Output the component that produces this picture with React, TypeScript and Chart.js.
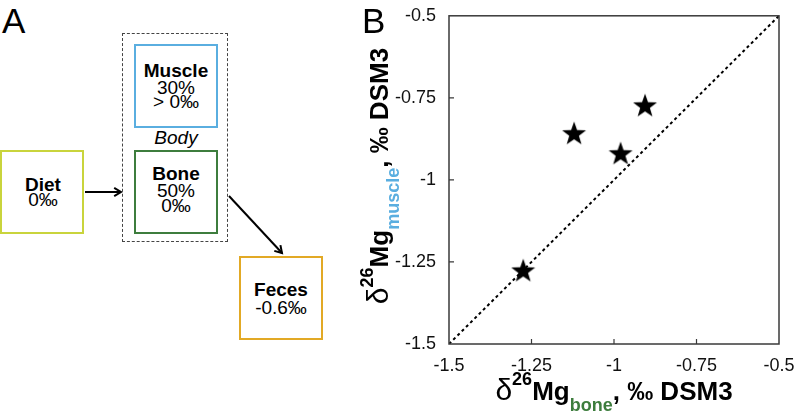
import React, { useEffect, useRef } from "react";
import { Chart, registerables } from "chart.js";

Chart.register(...registerables);

// ---- data ----
const boneValues = [-1.275, -1.121, -0.98, -0.906];
const muscleValues = [-1.276, -0.858, -0.919, -0.773];
const refLineX = [-1.5, -0.5];
const refLineY = [-1.5, -0.5];
const tickValues = [-1.5, -1.25, -1, -0.75, -0.5];
const tickLabels = ["-1.5", "-1.25", "-1", "-0.75", "-0.5"];

const FONT = "'Liberation Sans', Arial, Helvetica, sans-serif";
const BLUE = "#5aaee0";
const GREEN = "#3d7d3d";
const YELLOW = "#c9d43c";
const ORANGE = "#e2a925";

function makeStar(): HTMLCanvasElement {
  const c = document.createElement("canvas");
  const s = 28;
  c.width = s;
  c.height = s;
  const ctx = c.getContext("2d")!;
  const cx = s / 2, cy = s / 2 + 0.8;
  const R = 12.6, r = 5.1;
  ctx.beginPath();
  for (let i = 0; i < 10; i++) {
    const rad = i % 2 === 0 ? R : r;
    const a = -Math.PI / 2 + (i * Math.PI) / 5;
    const x = cx + rad * Math.cos(a);
    const y = cy + rad * Math.sin(a);
    if (i === 0) ctx.moveTo(x, y);
    else ctx.lineTo(x, y);
  }
  ctx.closePath();
  ctx.fillStyle = "#000";
  ctx.fill();
  return c;
}

const framePlugin = {
  id: "frameTicks",
  afterDatasetsDraw(chart: any) {
    const { ctx, chartArea } = chart;
    const { left, right, top, bottom } = chartArea;
    ctx.save();
    ctx.strokeStyle = "#3a3a3a";
    ctx.lineWidth = 1.5;
    ctx.strokeRect(left, top, right - left, bottom - top);
    ctx.lineWidth = 1.2;
    const xs = chart.scales.x;
    const ys = chart.scales.y;
    ctx.beginPath();
    xs.ticks.forEach((t: any, i: number) => {
      if (i === 0 || i === xs.ticks.length - 1) return;
      const px = xs.getPixelForValue(t.value);
      ctx.moveTo(px, bottom);
      ctx.lineTo(px, bottom - 5);
    });
    ys.ticks.forEach((t: any, i: number) => {
      if (i === 0 || i === ys.ticks.length - 1) return;
      const py = ys.getPixelForValue(t.value);
      ctx.moveTo(left, py);
      ctx.lineTo(left + 5, py);
    });
    ctx.stroke();
    ctx.restore();
  },
};

function ChartPanel() {
  const ref = useRef<HTMLCanvasElement | null>(null);
  useEffect(() => {
    if (!ref.current) return;
    const star = makeStar();
    const labelFor = (v: number) => {
      const i = tickValues.findIndex((t) => Math.abs(t - v) < 1e-9);
      return i >= 0 ? tickLabels[i] : "";
    };
    const tickFont = { family: FONT, size: 18 };
    const chart = new Chart(ref.current, {
      type: "scatter",
      data: {
        datasets: [
          {
            type: "line",
            data: refLineX.map((x, i) => ({ x, y: refLineY[i] })),
            borderColor: "#000",
            borderWidth: 2,
            borderDash: [3, 3],
            pointRadius: 0,
            fill: false,
          } as any,
          {
            data: boneValues.map((x, i) => ({ x, y: muscleValues[i] })),
            pointStyle: star as any,
            pointRadius: 13,
            backgroundColor: "#000",
          },
        ],
      },
      options: {
        animation: false,
        responsive: false,
        events: [],
        layout: { padding: { top: 14, right: 20, left: 0, bottom: 0 } },
        plugins: { legend: { display: false }, tooltip: { enabled: false } },
        scales: {
          x: {
            type: "linear",
            min: -1.5,
            max: -0.5,
            afterBuildTicks: (s: any) => {
              s.ticks = tickValues.map((v) => ({ value: v }));
            },
            afterFit: (s: any) => {
              s.height = 75;
            },
            grid: { display: false },
            border: { display: false },
            ticks: {
              callback: (v: any) => labelFor(Number(v)),
              font: tickFont,
              color: "#111",
              padding: 3,
              maxRotation: 0,
              autoSkip: false,
            },
          },
          y: {
            type: "linear",
            min: -1.5,
            max: -0.5,
            afterBuildTicks: (s: any) => {
              s.ticks = tickValues.map((v) => ({ value: v }));
            },
            afterFit: (s: any) => {
              s.width = 69;
            },
            grid: { display: false },
            border: { display: false },
            ticks: {
              callback: (v: any) => labelFor(Number(v)),
              font: tickFont,
              color: "#111",
              padding: 5,
              autoSkip: false,
            },
          },
        },
      },
      plugins: [framePlugin],
    });
    return () => chart.destroy();
  }, []);
  return (
    <canvas
      ref={ref}
      width={419}
      height={419}
      style={{ position: "absolute", left: 380, top: 0, width: 419, height: 419 }}
    />
  );
}

function Line({ cx, cy, text, bold, italic, size = 19 }: any) {
  return (
    <div
      style={{
        position: "absolute",
        left: cx - 60,
        width: 120,
        top: cy - 10,
        height: 20,
        lineHeight: "20px",
        textAlign: "center",
        fontSize: size,
        fontWeight: bold ? "bold" : "normal",
        fontStyle: italic ? "italic" : "normal",
        color: "#000",
        whiteSpace: "nowrap",
      }}
    >
      {text}
    </div>
  );
}

function Box({ x, y, w, h, color }: any) {
  return (
    <div
      style={{
        position: "absolute",
        left: x,
        top: y,
        width: w,
        height: h,
        boxSizing: "border-box",
        border: `2.5px solid ${color}`,
        background: "#fff",
      }}
    />
  );
}

function arrowHead(x1: number, y1: number, x2: number, y2: number, len = 8, ang = 0.55) {
  const a = Math.atan2(y2 - y1, x2 - x1);
  const p1 = [x2 - len * Math.cos(a - ang), y2 - len * Math.sin(a - ang)];
  const p2 = [x2 - len * Math.cos(a + ang), y2 - len * Math.sin(a + ang)];
  return `M${p1[0]},${p1[1]} L${x2},${y2} L${p2[0]},${p2[1]}`;
}

function AxisTitle({ sub, subColor }: any) {
  return (
    <>
      <span style={{ fontWeight: "normal", fontSize: 30 }}>δ</span>
      <span style={{ position: "relative", top: -15, fontSize: 18 }}>26</span>
      <span>Mg</span>
      <span style={{ position: "relative", top: 11, fontSize: 18, color: subColor }}>{sub}</span>
      <span>, ‰ DSM3</span>
    </>
  );
}

export default function App() {
  const titleStyle: any = {
    position: "absolute",
    whiteSpace: "nowrap",
    fontFamily: FONT,
    fontWeight: "bold",
    fontSize: 26,
    lineHeight: "26px",
    color: "#000",
  };
  return (
    <div
      style={{
        position: "absolute",
        left: 0,
        top: 0,
        width: 799,
        height: 419,
        overflow: "hidden",
        background: "#fff",
        fontFamily: FONT,
      }}
    >
      {/* Panel B chart */}
      <ChartPanel />

      {/* Panel letters */}
      <div style={{ position: "absolute", left: 2, top: 3, fontSize: 35, lineHeight: "35px" }}>A</div>
      <div style={{ position: "absolute", left: 362, top: 3, fontSize: 35, lineHeight: "35px" }}>B</div>

      {/* Panel A diagram */}
      <div
        style={{
          position: "absolute",
          left: 122,
          top: 33,
          width: 106,
          height: 209,
          boxSizing: "border-box",
          border: "1px dashed #444",
        }}
      />
      <Box x={134} y={44} w={84} h={84} color={BLUE} />
      <Box x={134} y={150} w={84} h={84} color={GREEN} />
      <Box x={0} y={150} w={84} h={84} color={YELLOW} />
      <Box x={239} y={256} w={84} h={84} color={ORANGE} />

      <Line cx={176} cy={71} text="Muscle" bold />
      <Line cx={176} cy={88} text="30%" />
      <Line cx={176} cy={102} text="> 0‰" />
      <Line cx={176} cy={138} text="Body" italic />
      <Line cx={176} cy={174} text="Bone" bold />
      <Line cx={176} cy={191} text="50%" />
      <Line cx={176} cy={206} text="0‰" />
      <Line cx={43} cy={185} text="Diet" bold />
      <Line cx={43} cy={200} text="0‰" />
      <Line cx={281} cy={290} text="Feces" bold />
      <Line cx={281} cy={308} text="-0.6‰" />

      <svg
        width={400}
        height={419}
        style={{ position: "absolute", left: 0, top: 0, overflow: "visible" }}
      >
        <g stroke="#000" strokeWidth={2} fill="none">
          <path d="M85,192 L121,192" />
          <path d={arrowHead(85, 192, 121, 192)} />
          <path d="M229,196 L282,253" />
          <path d={arrowHead(229, 196, 282, 253)} />
        </g>
      </svg>

      {/* Axis titles */}
      <div style={{ ...titleStyle, left: 614, top: 377, transform: "translateX(-50%)" }}>
        <AxisTitle sub="bone" subColor={GREEN} />
      </div>
      <div
        style={{
          ...titleStyle,
          left: 380,
          top: 176,
          transform: "translate(-50%, -50%) rotate(-90deg)",
        }}
      >
        <AxisTitle sub="muscle" subColor={BLUE} />
      </div>
    </div>
  );
}
